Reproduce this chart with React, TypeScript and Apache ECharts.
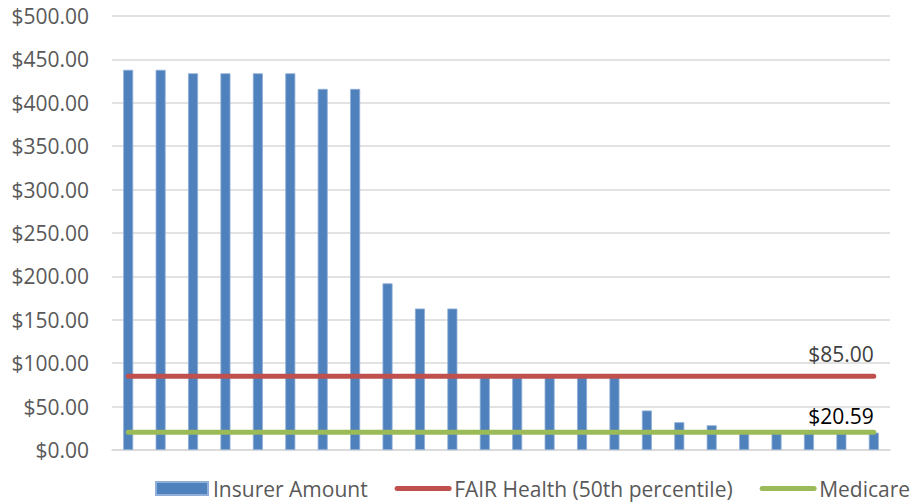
import React, { useEffect, useRef } from "react";
import * as echarts from "echarts";

const categories: string[] = [
  "1", "2", "3", "4", "5", "6", "7", "8", "9", "10", "11", "12",
  "13", "14", "15", "16", "17", "18", "19", "20", "21", "22", "23", "24",
];
const insurerAmount: number[] = [
  438, 438, 434, 434, 434, 434, 416, 416, 192, 163, 163, 85,
  85, 85, 85, 85, 45.5, 32, 28.5, 20, 20, 20, 20, 20,
];
const fairHealth: number[] = [
  85, 85, 85, 85, 85, 85, 85, 85, 85, 85, 85, 85,
  85, 85, 85, 85, 85, 85, 85, 85, 85, 85, 85, 85,
];
const medicare: number[] = [
  20.59, 20.59, 20.59, 20.59, 20.59, 20.59, 20.59, 20.59, 20.59, 20.59, 20.59, 20.59,
  20.59, 20.59, 20.59, 20.59, 20.59, 20.59, 20.59, 20.59, 20.59, 20.59, 20.59, 20.59,
];
const seriesNames = ["Insurer Amount", "FAIR Health (50th percentile)", "Medicare"];

const FONT = "'Open Sans', sans-serif";
const money = (v: number) => "$" + v.toFixed(2);

function lastLabeled(arr: number[], color: string, distance: number) {
  return arr.map((v, i) =>
    i === arr.length - 1
      ? {
          value: v,
          label: {
            show: true,
            position: "top",
            align: "right",
            distance,
            formatter: (p: any) => money(p.value),
            color,
            fontFamily: FONT,
            fontSize: 21,
          },
        }
      : v
  );
}

export default function App() {
  const ref = useRef<HTMLDivElement>(null);
  useEffect(() => {
    if (!ref.current) return;
    const chart = echarts.init(ref.current, undefined, { renderer: "svg" });
    const hiddenSym = { color: "rgba(0,0,0,0)", borderWidth: 0, opacity: 0 };
    chart.setOption({
      animation: false,
      backgroundColor: "#ffffff",
      grid: { left: 112, right: 24, top: 16, bottom: 54, containLabel: false },
      legend: {
        left: 155,
        top: 478,
        width: 780,
        padding: 0,
        itemGap: 27,
        itemWidth: 52,
        itemHeight: 13,
        textStyle: { color: "#595959", fontFamily: FONT, fontSize: 21 },
        data: [
          { name: seriesNames[0], icon: "rect" },
          {
            name: seriesNames[1],
            itemStyle: hiddenSym,
            lineStyle: { width: 5, cap: "round", color: "#C0504D" },
          },
          {
            name: seriesNames[2],
            itemStyle: hiddenSym,
            lineStyle: { width: 5, cap: "round", color: "#9BBB59" },
          },
        ],
      },
      xAxis: {
        type: "category",
        data: categories,
        boundaryGap: true,
        axisLine: { show: true, lineStyle: { color: "#D9D9D9", width: 1.5 } },
        axisTick: { show: false },
        axisLabel: { show: false },
      },
      yAxis: {
        type: "value",
        min: 0,
        max: 500,
        interval: 50,
        axisLine: { show: false },
        axisTick: { show: false },
        axisLabel: {
          formatter: (v: number) => money(v),
          color: "#595959",
          fontFamily: FONT,
          fontSize: 21,
          margin: 23,
        },
        splitLine: { lineStyle: { color: "#D9D9D9", width: 1.5 } },
      },
      series: [
        {
          name: seriesNames[0],
          type: "bar",
          data: insurerAmount,
          barWidth: 10,
          itemStyle: { color: "#4F81BD", borderColor: "#8FAFD8", borderWidth: 0.8 },
        },
        {
          name: seriesNames[1],
          type: "line",
          data: lastLabeled(fairHealth, "#404040", 12),
          symbol: "circle",
          symbolSize: 0,
          showSymbol: true,
          lineStyle: { color: "#C0504D", width: 5, cap: "round" },
          itemStyle: { color: "#C0504D" },
        },
        {
          name: seriesNames[2],
          type: "line",
          data: lastLabeled(medicare, "#000000", 5.5),
          symbol: "circle",
          symbolSize: 0,
          showSymbol: true,
          lineStyle: { color: "#9BBB59", width: 5, cap: "round" },
          itemStyle: { color: "#9BBB59" },
        },
      ],
    });
    return () => chart.dispose();
  }, []);
  return (
    <div
      ref={ref}
      style={{ position: "fixed", left: 0, top: 0, width: 914, height: 504 }}
    />
  );
}
